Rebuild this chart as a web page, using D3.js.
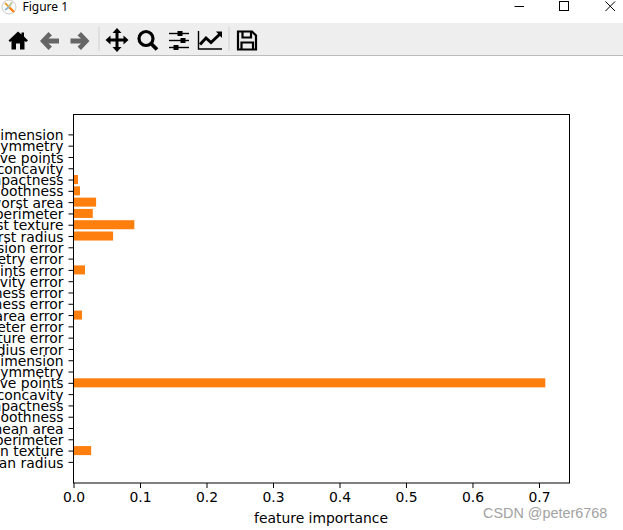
<!DOCTYPE html>
<html><head><meta charset="utf-8">
<script src="https://cdn.jsdelivr.net/npm/d3@7"></script>
<style>html,body{margin:0;padding:0;background:#fff;overflow:hidden}svg{display:block}</style>
</head><body><svg id="c" width="623" height="530"></svg>
<script>
const features = ["mean radius","mean texture","mean perimeter","mean area","mean smoothness","mean compactness","mean concavity","mean concave points","mean symmetry","mean fractal dimension","radius error","texture error","perimeter error","area error","smoothness error","compactness error","concavity error","concave points error","symmetry error","fractal dimension error","worst radius","worst texture","worst perimeter","worst area","worst smoothness","worst compactness","worst concavity","worst concave points","worst symmetry","worst fractal dimension"];
const importances = [0,0.0265,0,0,0,0,0,0.7095,0,0,0,0,0,0.0128,0,0,0,0.0173,0,0,0.0595,0.0915,0.029,0.034,0.0098,0.0068,0,0,0,0];
const xTicks = [0,0.1,0.2,0.3,0.4,0.5,0.6,0.7];
const xLabel = "feature importance";
const windowTitle = "Figure 1";
const watermark = "CSDN @peter6768";

const svg = d3.select("#c");
const font = "'DejaVu Sans'";
const L=73.5,R=569.5,T=114.5,B=483;
const x = d3.scaleLinear().domain([0,0.7459]).range([L,R]);
const y = d3.scaleLinear().domain([-1.87,30.76]).range([B,T]);

// window chrome
svg.append("rect").attr("x",0).attr("y",23).attr("width",623).attr("height",32).attr("fill","#eeeeee");
svg.append("rect").attr("x",0).attr("y",55).attr("width",623).attr("height",1).attr("fill","#bcbcbc");
svg.append("text").attr("x",22.5).attr("y",11).attr("font-family","'Noto Sans'").attr("font-size",12).attr("fill","#000").text(windowTitle);
const logo = svg.append("g").attr("transform","translate(9,7)");
logo.append("circle").attr("r",7).attr("fill","#fff").attr("stroke","#c9c9c9");
logo.append("path").attr("d","M0 0L-4 -4").attr("stroke","#e8a33d").attr("stroke-width",2);
logo.append("path").attr("d","M0 0L5 5").attr("stroke","#ff7f0e").attr("stroke-width",2.4);
logo.append("path").attr("d","M0 0L-4 3").attr("stroke","#8fb8d8").attr("stroke-width",2);
logo.append("path").attr("d","M0 0L3 -5").attr("stroke","#b8c9a0").attr("stroke-width",2);
// window buttons
svg.append("path").attr("d","M514.5 6.5H524").attr("stroke","#000").attr("fill","none");
svg.append("rect").attr("x",559.5).attr("y",1.5).attr("width",9).attr("height",9).attr("fill","none").attr("stroke","#000");
svg.append("path").attr("d","M605.5 1.5L615 11M615 1.5L605.5 11").attr("stroke","#000").attr("fill","none");
// toolbar separators
[98.5,228.5].forEach(v=>svg.append("rect").attr("x",v).attr("y",27).attr("width",1).attr("height",24).attr("fill","#cfcfcf"));
// toolbar icons
const tb = svg.append("g");
tb.append("path").attr("d","M18 31.5L8.5 40.5L10 42L11.5 41V49.5H16V43.5H20V49.5H24.5V41L26 42L28 40.5L24 36.5V32.5H21.5V34.5Z").attr("fill","#000");
tb.append("path").attr("d","M40 41L48.5 32L52 35.5L48.5 38.5H59V43.5H48.5L52 46.5L48.5 50Z").attr("fill","#666");
tb.append("path").attr("d","M89.5 41L81 32L77.5 35.5L81 38.5H70.5V43.5H81L77.5 46.5L81 50Z").attr("fill","#666");
tb.append("path").attr("d","M117 28L121.5 33H118.5V38.5H123.5V35.5L128.5 40L123.5 44.5V41.5H118.5V47H121.5L117 52L112.5 47H115.5V41.5H110.5V44.5L105.5 40L110.5 35.5V38.5H115.5V33H112.5Z").attr("fill","#000");
tb.append("circle").attr("cx",146).attr("cy",38.5).attr("r",7).attr("fill","none").attr("stroke","#000").attr("stroke-width",3.2);
tb.append("path").attr("d","M151 43.5L157 49.5").attr("stroke","#000").attr("stroke-width",3.8);
[[169,189,33.5,180],[169,189,40.5,183],[169,189,47.5,176]].forEach(d=>{
  tb.append("path").attr("d",`M${d[0]} ${d[2]}H${d[1]}`).attr("stroke","#000").attr("stroke-width",1.4);
  tb.append("rect").attr("x",d[3]-2.5).attr("y",d[2]-2.5).attr("width",5).attr("height",5).attr("fill","#000");
});
tb.append("path").attr("d","M198.5 31V49H222").attr("fill","none").attr("stroke","#000").attr("stroke-width",1.4);
tb.append("path").attr("d","M200 44.5L206 38L211 42.5L220 34").attr("fill","none").attr("stroke","#000").attr("stroke-width",3);
tb.append("path").attr("d","M216 31.5H222V38Z").attr("fill","#000");
tb.append("path").attr("d","M238 31.5H252L256 35.5V49.5H238Z").attr("fill","none").attr("stroke","#000").attr("stroke-width",2.2);
tb.append("path").attr("d","M242.5 32V37.5H251V32M241.5 49V42.5H253V49").attr("fill","none").attr("stroke","#000").attr("stroke-width",2.2);

// bars
svg.append("g").selectAll("rect").data(importances).join("rect")
  .attr("x",x(0)).attr("y",(d,i)=>y(i+0.4)).attr("width",d=>x(d)-x(0))
  .attr("height",(d,i)=>y(i-0.4)-y(i+0.4)).attr("fill","#ff7f0e");

// axes
const ax = svg.append("g").attr("transform",`translate(0,${B})`).call(d3.axisBottom(x).tickValues(xTicks).tickFormat(d=>d.toFixed(1)).tickSize(5).tickPadding(3.5));
const ay = svg.append("g").attr("transform",`translate(${L},0)`).call(d3.axisLeft(y).tickValues(d3.range(features.length)).tickFormat(i=>features[i]).tickSize(5).tickPadding(5));
ax.attr("font-family",font).attr("font-size",13.9); ay.attr("font-family",font).attr("font-size",13.9);
ax.selectAll("text").attr("fill","#000"); ay.selectAll("text").attr("fill","#000").attr("y",0.7);
ax.selectAll("line").attr("stroke","#000");
ax.selectAll("text").attr("y",9.5);
ay.selectAll("line").attr("stroke","#000");
ax.select(".domain").remove(); ay.select(".domain").remove();
svg.append("rect").attr("x",L).attr("y",T).attr("width",R-L).attr("height",B-T).attr("fill","none").attr("stroke","#000").attr("stroke-width",1);

svg.append("text").attr("x",(L+R)/2 - 0.5).attr("y",523).attr("text-anchor","middle").attr("font-family",font).attr("font-size",13.9).attr("fill","#000").text(xLabel);
svg.append("text").attr("x",483).attr("y",517.5).attr("font-family","'Liberation Sans'").attr("font-size",14.4).attr("fill","#a2a2a2").text(watermark);
</script></body></html>
